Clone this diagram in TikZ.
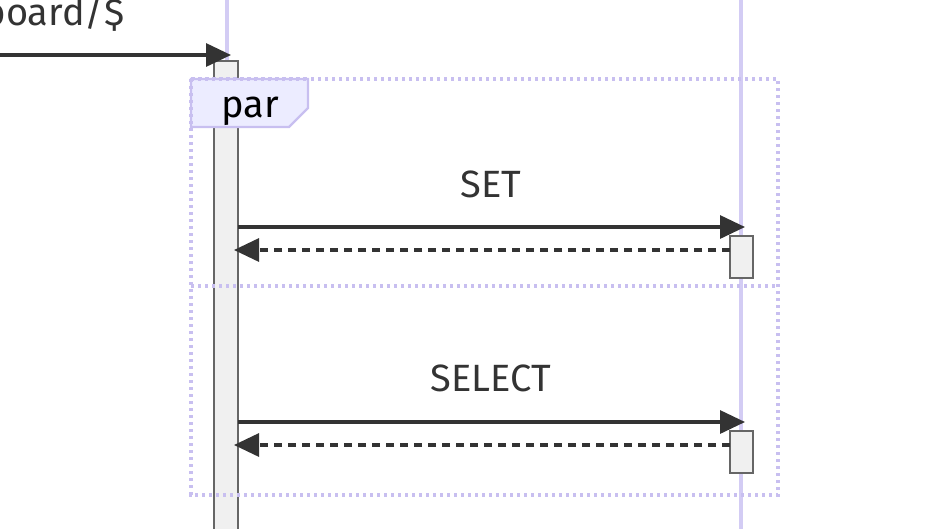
\documentclass[tikz,border=0pt]{standalone}
\usepackage{fontspec}
\setmainfont{Fira Sans}
\usetikzlibrary{arrows.meta}

\definecolor{lifeline}{HTML}{D3CCF4}
\definecolor{framecol}{HTML}{C8BFF0}
\definecolor{framefill}{HTML}{ECECFF}
\definecolor{msgcol}{HTML}{333333}
\definecolor{actfill}{HTML}{F0F0F0}
\definecolor{actline}{HTML}{666666}

\begin{document}
\begin{tikzpicture}[x=1pt,y=-1pt,
		msg/.style={draw=msgcol,line width=3.2pt,-{Triangle[length=25pt,width=23pt]}},
		reply/.style={msg,dash pattern=on 8pt off 6pt},
		life/.style={draw=lifeline,line width=4pt},
		act/.style={draw=actline,fill=actfill,line width=2.2pt,inner sep=0pt,outer sep=0pt},
		frame/.style={draw=framecol,line width=3.2pt,dash pattern=on 3.2pt off 3.8pt},
		lbl/.style={text=msgcol,font=\fontsize{38pt}{44pt}\selectfont,inner sep=0pt}]
		\useasboundingbox (0,0) rectangle (926,528);
		\clip (0,0) rectangle (926,528);

		\draw[life] (227,-5) -- (227,535);
		\draw[life] (741,-5) -- (741,535);

		\node[act,minimum width=24pt,minimum height=480pt,anchor=north] (actA) at (226,61) {};
		\node[act,minimum width=23pt,minimum height=42pt,anchor=north west] (setact) at (730,236) {};
		\node[act,minimum width=23pt,minimum height=42pt,anchor=north west] (selact) at (730,431) {};

		\draw[frame] (191,79) rectangle (778,495);
		\draw[frame] (191,286) -- (778,286);
		\draw[draw=framecol,fill=framefill,line width=2.2pt] (191,79) -- (308,79) -- (308,108) -- (289,127) -- (191,127) -- cycle;
		\draw[frame] (191,79) -- (308,79);
		\draw[frame] (191,79) -- (191,127);
		\node[lbl,text=black,anchor=base] (parlbl) at (250,117) {par};

		\node[lbl,anchor=base east] (reqlbl) at (125,25) {board/\$};
		\coordinate (reqin) at (0,55);
		\coordinate (reqout) at (231,55);
		\draw[msg] (reqin) -- (reqout);

		\node[lbl,anchor=base] (setlbl) at (491,197) {SET};
		\draw[msg] (actA.east |- 0,227) -- (745,227);
		\draw[reply] (setact.west |- 0,250) -- (234,250);

		\node[lbl,anchor=base] (sellbl) at (491,391) {SELECT};
		\draw[msg] (actA.east |- 0,422) -- (745,422);
		\draw[reply] (selact.west |- 0,445) -- (234,445);

	\end{tikzpicture}
\end{document}
